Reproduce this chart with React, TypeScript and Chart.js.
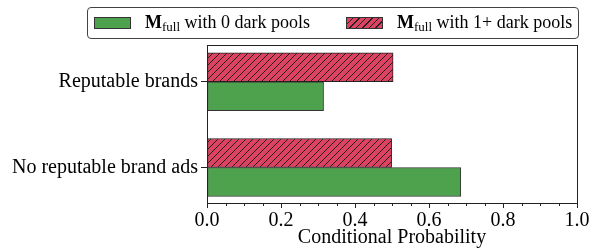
import React, { useEffect, useRef } from "react";
import { Chart, registerables } from "chart.js";

Chart.register(...registerables);

const categories = ["No reputable brand ads", "Reputable brands"];
const categoryPositions = [0, 1];
const zeroDarkPools = [0.686, 0.315];
const oneplusDarkPools = [0.499, 0.503];
const xTickValues = [0, 0.2, 0.4, 0.6, 0.8, 1.0];

const GREEN = "#4ea24e";
const RED = "#dc4262";
const FONT = "'Liberation Serif', 'DejaVu Serif', serif";

function makeHatch(): CanvasPattern | string {
  const c = document.createElement("canvas");
  const s = 7;
  c.width = s;
  c.height = s;
  const g = c.getContext("2d");
  if (!g) return RED;
  g.fillStyle = RED;
  g.fillRect(0, 0, s, s);
  g.strokeStyle = "rgba(20,20,20,0.9)";
  g.lineWidth = 1;
  g.beginPath();
  g.moveTo(0, s);
  g.lineTo(s, 0);
  g.moveTo(-1, 1);
  g.lineTo(1, -1);
  g.moveTo(s - 1, s + 1);
  g.lineTo(s + 1, s - 1);
  g.stroke();
  const ctx = document.createElement("canvas").getContext("2d");
  return ctx ? (ctx.createPattern(c, "repeat") as CanvasPattern) : RED;
}

const framePlugin = {
  id: "frame",
  afterDraw(chart: any) {
    const { ctx, chartArea } = chart;
    const xs = chart.scales.x;
    ctx.save();
    ctx.strokeStyle = "#222";
    ctx.lineWidth = 1;
    ctx.strokeRect(
      Math.round(chartArea.left) + 0.5,
      Math.round(chartArea.top) + 0.5,
      Math.round(chartArea.right - chartArea.left),
      Math.round(chartArea.bottom - chartArea.top)
    );
    ctx.beginPath();
    for (let i = 0; i <= 20; i++) {
      if (i % 4 === 0) continue;
      const px = Math.round(xs.getPixelForValue(i * 0.05)) + 0.5;
      ctx.moveTo(px, chartArea.bottom);
      ctx.lineTo(px, chartArea.bottom + 3);
    }
    ctx.stroke();
    ctx.restore();
  },
};

function LegendItem({
  hatch,
  color,
  label,
  left,
}: {
  hatch: boolean;
  color: string;
  label: string;
  left: number;
}) {
  const bg = hatch
    ? `repeating-linear-gradient(135deg, ${color} 0px, ${color} 3.6px, #222 3.6px, #222 4.6px)`
    : color;
  return (
    <div
      style={{
        position: "absolute",
        left,
        top: 0,
        height: 30,
        display: "flex",
        alignItems: "center",
        fontFamily: FONT,
      }}
    >
      <div
        style={{
          width: 37,
          height: 12,
          background: bg,
          border: "1px solid #333",
          marginRight: 14,
          boxSizing: "border-box",
          flex: "none",
        }}
      />
      <span style={{ fontFamily: FONT, fontSize: 18, color: "#000", whiteSpace: "nowrap" }}>
        <b>M</b>
        <sub style={{ fontSize: 13, verticalAlign: "-3px" }}>full</sub> {label}
      </span>
    </div>
  );
}

export default function App() {
  const ref = useRef<HTMLCanvasElement | null>(null);

  useEffect(() => {
    if (!ref.current) return;
    const hatch = makeHatch();
    const chart = new Chart(ref.current, {
      type: "bar",
      data: {
        datasets: [
          {
            label: "M_full with 1+ dark pools",
            data: categoryPositions.map((y, i) => ({ x: oneplusDarkPools[i], y })),
            backgroundColor: hatch as any,
            borderColor: "#222",
            borderWidth: 1,
            borderSkipped: false,
            barThickness: 29,
          },
          {
            label: "M_full with 0 dark pools",
            data: categoryPositions.map((y, i) => ({ x: zeroDarkPools[i], y })),
            backgroundColor: GREEN,
            borderColor: "#333",
            borderWidth: 1,
            borderSkipped: false,
            barThickness: 29,
          },
        ],
      },
      options: {
        indexAxis: "y",
        responsive: false,
        animation: false,
        devicePixelRatio: 1,
        layout: { padding: { top: 45, right: 16, left: 0, bottom: 0 } },
        plugins: { legend: { display: false }, tooltip: { enabled: false } },
        scales: {
          x: {
            type: "linear",
            min: 0,
            max: 1,
            offset: false,
            afterFit: (s: any) => {
              s.height = 47;
            },
            afterBuildTicks: (s: any) => {
              s.ticks = xTickValues.map((v) => ({ value: v }));
            },
            ticks: {
              color: "#000",
              font: { family: FONT, size: 20 },
              padding: 1,
              maxRotation: 0,
              autoSkip: false,
              callback: (v: any) => Number(v).toFixed(1),
            },
            grid: {
              display: true,
              drawOnChartArea: false,
              drawTicks: true,
              offset: false,
              tickLength: 5,
              tickColor: "#222",
            },
            border: { display: true, color: "#222" },
            title: {
              display: true,
              text: "Conditional Probability",
              color: "#000",
              font: { family: FONT, size: 20 },
              padding: { top: 0, bottom: 0 },
            },
          },
          y: {
            type: "linear",
            min: -0.414,
            max: 1.429,
            offset: false,
            afterFit: (s: any) => {
              s.width = 207;
            },
            afterBuildTicks: (s: any) => {
              s.ticks = categoryPositions.map((v) => ({ value: v }));
            },
            ticks: {
              color: "#000",
              font: { family: FONT, size: 20 },
              padding: 3,
              autoSkip: false,
              callback: (v: any) => categories[categoryPositions.indexOf(Number(v))] ?? "",
            },
            grid: {
              display: true,
              drawOnChartArea: false,
              drawTicks: true,
              offset: false,
              tickLength: 6,
              tickColor: "#222",
            },
            border: { display: true, color: "#222" },
          },
        },
      },
      plugins: [framePlugin],
    } as any);
    return () => chart.destroy();
  }, []);

  return (
    <div style={{ position: "absolute", left: 0, top: 0, width: 593, height: 250, background: "#fff" }}>
      <canvas ref={ref} width={593} height={250} style={{ display: "block" }} />
      <div
        style={{
          position: "absolute",
          left: 87,
          top: 7,
          width: 492,
          height: 32,
          boxSizing: "border-box",
          border: "1px solid #444",
          borderRadius: 4,
          background: "#fff",
          fontFamily: FONT,
        }}
      >
        <LegendItem hatch={false} color={GREEN} label="with 0 dark pools" left={6} />
        <LegendItem hatch={true} color={RED} label="with 1+ dark pools" left={258} />
      </div>
    </div>
  );
}
